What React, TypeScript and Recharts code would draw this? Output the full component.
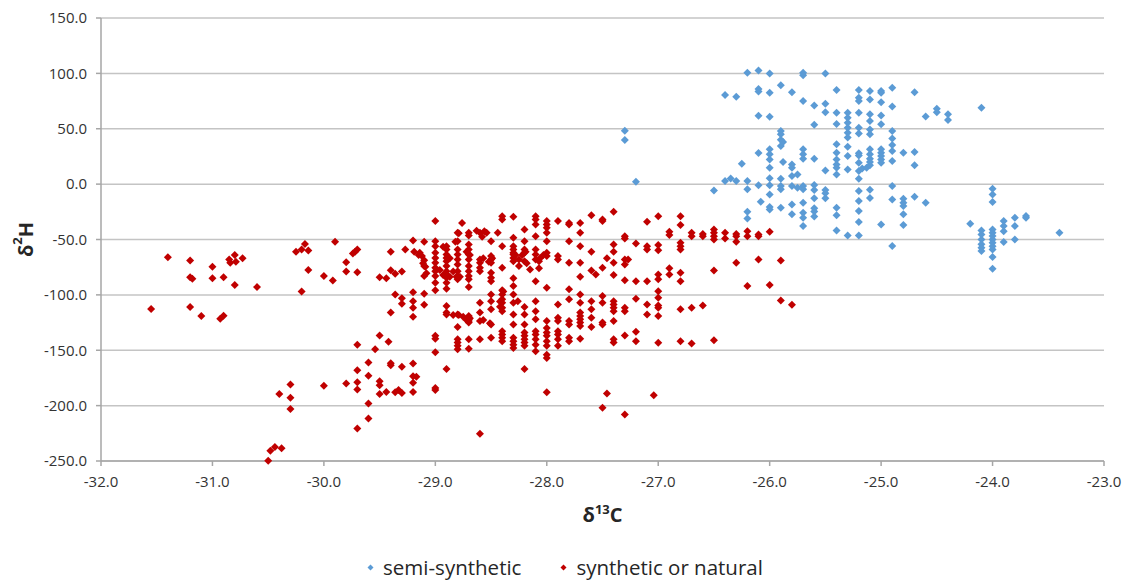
import React from 'react';
import { ScatterChart, Scatter, XAxis, YAxis, CartesianGrid, Legend, Label } from 'recharts';

const xTicks = [-32, -31, -30, -29, -28, -27, -26, -25, -24, -23];
const yTicks = [-250, -200, -150, -100, -50, 0, 50, 100, 150];

const seriesNames = ['semi-synthetic', 'synthetic or natural'];

const semiSynthetic: [number, number][] = [
  [-27.3, 48.2], [-27.3, 39.8], [-27.2, 2.2], [-26.5, -5.7], [-26.4, 80.4], [-26.3, 78.9],
  [-26.2, 100.6], [-26.1, 102.7], [-26.0, 100], [-26.1, 86], [-26.1, 83.7], [-26.0, 82.5], [-26.1, 61.8], [-26.0, 60.9],
  [-25.9, 89.2], [-25.8, 83], [-25.7, 100.6], [-25.7, 98.2], [-25.5, 100], [-25.7, 75], [-25.6, 71], [-25.5, 72.6], [-25.5, 65], [-25.6, 53.6],
  [-25.4, 85], [-25.4, 64.5], [-25.4, 54.2],
  [-25.3, 64.5], [-25.3, 60], [-25.3, 55.5], [-25.3, 51], [-25.3, 46.4], [-25.3, 42],
  [-25.2, 85], [-25.2, 78], [-25.2, 75], [-25.2, 64.5], [-25.2, 51], [-25.2, 45.8],
  [-25.1, 84], [-25.1, 76.5], [-25.1, 63], [-25.1, 57], [-25.1, 49.4], [-25.1, 45],
  [-25.9, 48], [-25.9, 45], [-25.9, 40], [-25.9, 34.4], [-25.88, 38],
  [-26.1, 28],
  [-26.0, 31.4], [-26.0, 26.9], [-26.0, 22.3], [-26.0, 14.8], [-26.0, 5.2], [-26.0, -1.1], [-26.0, -9.3], [-26.0, -20.7], [-26.0, -22.8],
  [-26.25, 18.4], [-26.4, 2.8], [-26.35, 5], [-26.3, 2.8], [-26.2, 2.8], [-26.2, -4.7], [-26.2, -25], [-26.2, -31], [-26.1, -1.1], [-26.08, -16],
  [-25.9, 4.9], [-25.9, -1.7], [-25.9, -4.7], [-25.9, -21.3],
  [-25.8, 7.3], [-25.8, -1.7], [-25.8, -18.3], [-25.8, -27.3],
  [-25.88, 20], [-25.8, 17.8], [-25.8, 14.8],
  [-25.75, 8.8], [-25.75, -3.2],
  [-25.7, 31.4], [-25.7, 26.9], [-25.7, 23],
  [-25.7, -1.7], [-25.7, -4.7], [-25.7, -16.8], [-25.7, -25.8], [-25.7, -30.3], [-25.7, -37.8],
  [-25.6, 23], [-25.6, -0.7], [-25.6, -5.2], [-25.6, -12.8], [-25.6, -21.8], [-25.6, -24.8], [-25.6, -29.3],
  [-25.5, 12.4], [-25.5, -5.2], [-25.5, -8.2], [-25.5, -12.8],
  [-25.4, 35.9], [-25.4, 28.4], [-25.4, 22.3], [-25.4, 17.8], [-25.4, 14.8], [-25.4, 8.8], [-25.4, -21.3], [-25.4, -28.2], [-25.4, -41.8],
  [-25.3, 33.8], [-25.3, 25.4], [-25.3, 13.3], [-25.3, -46.3],
  [-25.2, 27.8], [-25.2, 25.9], [-25.2, 19.3], [-25.2, 11.8], [-25.2, 4.8], [-25.2, -6.3], [-25.2, -15.3], [-25.2, -24.3], [-25.2, -34.2], [-25.2, -46.3],
  [-25.17, 14.2], [-25.13, 14.8], [-25.1, 31.4], [-25.1, 26.9], [-25.1, 23], [-25.1, 20], [-25.1, 17], [-25.1, -5], [-25.1, -12.5],
  [-25.0, 84], [-25.0, 82.5], [-25.0, 74], [-25.0, 62], [-25.0, 54], [-25.0, 31.4], [-25.0, 28.4], [-25.0, 25.4], [-25.0, 22.3], [-25.0, 19.3], [-25.0, -36.4],
  [-24.9, 87], [-24.9, 70], [-24.9, 48], [-24.9, 41.3], [-24.9, 35.3], [-24.9, 30], [-24.9, 20.8], [-24.9, -1.7], [-24.9, -13.8], [-24.9, -55.9],
  [-24.8, 28.4], [-24.8, -13.2], [-24.8, -16.8], [-24.8, -19.8], [-24.8, -27.3], [-24.8, -37],
  [-24.7, 83], [-24.7, 29], [-24.7, 17], [-24.7, -11.4],
  [-24.6, 61], [-24.6, -16.8],
  [-24.5, 68], [-24.5, 65],
  [-24.4, 63], [-24.4, 57.9],
  [-24.2, -35.8],
  [-24.1, 69], [-24.1, -41.8], [-24.1, -45.4], [-24.1, -50], [-24.1, -54.4], [-24.1, -57.4], [-24.1, -60.4],
  [-24.0, -4.2], [-24.0, -9.3], [-24.0, -16.2], [-24.0, -40.9], [-24.0, -43.9], [-24.0, -46.9], [-24.0, -50], [-24.0, -53], [-24.0, -56], [-24.0, -59], [-24.0, -65.8], [-24.0, -76.4],
  [-23.9, -33.3], [-23.9, -37.9], [-23.9, -42.5], [-23.9, -52.3],
  [-23.8, -30.3], [-23.8, -37.9], [-23.8, -50],
  [-23.7, -28.8], [-23.7, -30.3],
  [-23.4, -43.9],
];

const syntheticOrNatural: [number, number][] = [
  // far left group
  [-31.4, -66], [-31.2, -69], [-31.2, -84], [-31.18, -85.5], [-31.0, -74.5], [-31.0, -85], [-30.9, -84],
  [-30.85, -68], [-30.84, -71], [-30.8, -64], [-30.79, -70], [-30.73, -67], [-30.8, -91], [-30.6, -93],
  [-30.25, -61], [-30.2, -59], [-30.17, -54], [-30.14, -60], [-30.14, -77.5], [-30.2, -97], [-30.0, -83],
  [-31.55, -112.7], [-31.2, -111], [-31.1, -119], [-30.93, -121.5], [-30.9, -118.8],
  [-30.3, -181], [-30.4, -189.5], [-30.3, -193], [-30.3, -203], [-30.0, -182],
  [-30.5, -249.7], [-30.48, -240.7], [-30.44, -237.4], [-30.38, -238.5],
  // -29.9 .. -29.1
  [-29.9, -52], [-29.92, -87],
  [-29.8, -70.5], [-29.8, -79], [-29.8, -180],
  [-29.7, -59], [-29.72, -61], [-29.74, -62.6], [-29.7, -79.5], [-29.7, -145], [-29.7, -168], [-29.7, -179], [-29.7, -185.5], [-29.7, -220.7],
  [-29.6, -161], [-29.6, -173], [-29.6, -198], [-29.6, -211.6],
  [-29.54, -149],
  [-29.5, -84], [-29.5, -136.7], [-29.5, -178], [-29.5, -181.5], [-29.5, -189.4],
  [-29.44, -85], [-29.42, -142.4], [-29.44, -187.6],
  [-29.4, -61], [-29.4, -77.7], [-29.4, -116], [-29.4, -161.7], [-29.4, -163.5],
  [-29.36, -81], [-29.36, -99.6], [-29.36, -188], [-29.33, -186],
  [-29.3, -79], [-29.3, -103], [-29.3, -108], [-29.3, -165], [-29.3, -188.5],
  [-29.27, -59],
  [-29.2, -51], [-29.2, -97.6], [-29.2, -105.7], [-29.2, -111.7], [-29.2, -119.8], [-29.2, -162], [-29.2, -173.4], [-29.2, -179.4], [-29.2, -187.6],
  [-29.17, -174],
  [-29.19, -61], [-29.15, -64], [-29.11, -71.5], [-29.09, -74.6], [-29.08, -80.5],
  [-29.1, -52], [-29.14, -62], [-29.12, -65], [-29.1, -68.7], [-29.1, -74], [-29.1, -83], [-29.1, -99], [-29.1, -109],
  // -29.0 .. -28.0
  [-29.0, -33.4], [-29.0, -51.5], [-29.0, -56], [-29.0, -62], [-29.0, -66.6], [-29.0, -71], [-29.0, -75.6], [-29.0, -78.6], [-29.0, -83], [-29.0, -89], [-29.0, -95.8], [-29.0, -137], [-29.0, -139.7], [-29.0, -151.7], [-29.0, -184], [-29.0, -186],
  [-28.96, -77.5], [-28.93, -82], [-28.93, -56.5], [-28.87, -83.6], [-28.84, -79], [-28.81, -83.6], [-28.78, -83.6],
  [-28.87, -67], [-28.82, -52], [-28.79, -44.4], [-28.72, -61], [-28.69, -64],
  [-28.9, -56], [-28.9, -59], [-28.9, -63.5], [-28.9, -66.6], [-28.9, -69.6], [-28.9, -74], [-28.9, -78.6], [-28.9, -81.6], [-28.9, -84.6], [-28.9, -89], [-28.9, -94.5], [-28.9, -110], [-28.9, -116], [-28.9, -117.7], [-28.9, -167],
  [-28.84, -118.2], [-28.79, -118.2], [-28.75, -119.7], [-28.72, -122.7], [-28.69, -121.2],
  [-28.8, -44], [-28.8, -51.5], [-28.8, -59], [-28.8, -63.5], [-28.8, -68], [-28.8, -72.6], [-28.8, -78.6], [-28.8, -83], [-28.8, -86], [-28.8, -117.7], [-28.8, -129], [-28.8, -140], [-28.8, -143], [-28.8, -146], [-28.8, -149],
  [-28.76, -35],
  [-28.7, -44], [-28.7, -46.4], [-28.7, -54.5], [-28.7, -59], [-28.7, -63.5], [-28.7, -68], [-28.7, -74], [-28.7, -78.6], [-28.7, -83], [-28.7, -86], [-28.7, -93], [-28.7, -119], [-28.7, -122], [-28.7, -123.7], [-28.7, -125], [-28.7, -140], [-28.7, -148.7],
  [-28.63, -42], [-28.6, -44], [-28.56, -42.5], [-28.58, -47.5],
  [-28.6, -68], [-28.57, -67], [-28.52, -70], [-28.49, -67],
  [-28.6, -71], [-28.6, -75.6], [-28.6, -78.6], [-28.6, -107], [-28.6, -116], [-28.6, -123.7], [-28.6, -140], [-28.6, -225.5],
  [-28.57, -122.7], [-28.51, -125.7],
  [-28.54, -44],
  [-28.5, -51.5], [-28.5, -65], [-28.5, -68], [-28.5, -71], [-28.5, -80], [-28.5, -84.6], [-28.5, -87.6], [-28.5, -99.7], [-28.5, -105.7], [-28.5, -113], [-28.5, -126.8], [-28.5, -138.8],
  [-28.44, -44], [-28.42, -110.7], [-28.42, -106], [-28.39, -97],
  [-28.4, -29], [-28.4, -32], [-28.4, -56], [-28.4, -75.6], [-28.4, -95.8], [-28.4, -99.7], [-28.4, -104], [-28.4, -107], [-28.4, -111.7], [-28.4, -114.7], [-28.4, -132.8], [-28.4, -135.8], [-28.4, -138.8], [-28.4, -141.8],
  [-28.3, -29.5], [-28.3, -48.5], [-28.3, -56], [-28.3, -59], [-28.3, -62], [-28.3, -63.5], [-28.3, -66.6], [-28.3, -69.6], [-28.3, -85], [-28.3, -92], [-28.3, -99.7], [-28.3, -107], [-28.3, -117.7], [-28.3, -126.8], [-28.3, -138.8], [-28.3, -141.8], [-28.3, -145], [-28.3, -148],
  [-28.28, -64], [-28.22, -64], [-28.19, -61], [-28.18, -71.5],
  [-28.25, -68], [-28.25, -74], [-28.26, -105.7],
  [-28.2, -41], [-28.2, -51.5], [-28.2, -59], [-28.2, -62], [-28.2, -69.6], [-28.2, -111], [-28.2, -117.7], [-28.2, -126.8], [-28.2, -134], [-28.2, -137], [-28.2, -140], [-28.2, -143], [-28.2, -146], [-28.2, -167],
  [-28.15, -77],
  [-28.1, -29], [-28.1, -32], [-28.1, -36.5], [-28.1, -47], [-28.1, -59], [-28.1, -63.5], [-28.1, -68], [-28.1, -87.6], [-28.1, -105.7], [-28.1, -114.7], [-28.1, -122], [-28.1, -132.8], [-28.1, -135.8], [-28.1, -140], [-28.1, -145], [-28.1, -151],
  [-28.07, -69.6], [-28.07, -76], [-28.06, -67], [-28.03, -64],
  [-28.0, -33.4], [-28.0, -36.5], [-28.0, -39.5], [-28.0, -44], [-28.0, -51.5], [-28.0, -62], [-28.0, -65], [-28.0, -93.6], [-28.0, -123.7], [-28.0, -129.8], [-28.0, -134], [-28.0, -137], [-28.0, -141.8], [-28.0, -146], [-28.0, -154], [-28.0, -157], [-28.0, -187.9],
  // -27.9 .. -25.8
  [-27.9, -33.4], [-27.9, -65], [-27.9, -68], [-27.9, -108.7], [-27.9, -120.7], [-27.9, -123.7], [-27.9, -132.8], [-27.9, -135.8], [-27.9, -140], [-27.9, -146],
  [-27.8, -35], [-27.8, -36.5], [-27.8, -51.5], [-27.8, -71], [-27.8, -95], [-27.8, -104], [-27.8, -123.7], [-27.8, -126.8], [-27.8, -138.8], [-27.8, -141.8],
  [-27.7, -35], [-27.7, -44], [-27.7, -56], [-27.7, -71], [-27.7, -83.7], [-27.7, -99.7], [-27.7, -107], [-27.7, -116], [-27.7, -119], [-27.7, -122], [-27.7, -125], [-27.7, -128], [-27.7, -139.7],
  [-27.6, -28], [-27.6, -61], [-27.6, -78], [-27.6, -105.7], [-27.6, -113], [-27.6, -120.7], [-27.6, -128.9],
  [-27.56, -81.6],
  [-27.5, -32], [-27.5, -33.4], [-27.5, -75.6], [-27.5, -101], [-27.5, -107], [-27.5, -125], [-27.5, -126.8], [-27.5, -202],
  [-27.46, -67], [-27.46, -189],
  [-27.4, -25], [-27.4, -54.5], [-27.4, -61], [-27.4, -71], [-27.4, -82], [-27.4, -105.7], [-27.4, -108.7], [-27.4, -111.7], [-27.4, -114.7], [-27.4, -123.7], [-27.4, -140], [-27.4, -143],
  [-27.3, -47], [-27.3, -49], [-27.3, -68], [-27.3, -72.6], [-27.3, -86.7], [-27.3, -111.7], [-27.3, -114.7], [-27.3, -136.7], [-27.3, -208],
  [-27.27, -68],
  [-27.2, -53.6], [-27.2, -87.6], [-27.2, -103.6], [-27.2, -133.4], [-27.2, -141.8],
  [-27.1, -34], [-27.1, -56], [-27.1, -59], [-27.1, -87.6], [-27.1, -108.7], [-27.1, -117.7],
  [-27.04, -190.6],
  [-27.0, -29], [-27.0, -55], [-27.0, -59.6], [-27.0, -81.6], [-27.0, -86], [-27.0, -96.7], [-27.0, -102.7], [-27.0, -109.6], [-27.0, -111.7], [-27.0, -119], [-27.0, -143.3],
  [-26.9, -43], [-26.9, -46], [-26.9, -76], [-26.9, -81.6],
  [-26.8, -29], [-26.8, -37], [-26.8, -53], [-26.8, -56], [-26.8, -59], [-26.8, -80], [-26.8, -87.6], [-26.8, -113], [-26.8, -141.8],
  [-26.7, -44], [-26.7, -47], [-26.7, -111.7], [-26.7, -144],
  [-26.6, -45], [-26.6, -47], [-26.6, -109.6],
  [-26.5, -41], [-26.5, -44], [-26.5, -47], [-26.5, -50], [-26.5, -78], [-26.5, -141],
  [-26.4, -44], [-26.4, -49],
  [-26.3, -45], [-26.3, -47], [-26.3, -52], [-26.3, -71],
  [-26.2, -42.5], [-26.2, -47], [-26.2, -92],
  [-26.1, -45.5], [-26.1, -47], [-26.1, -68],
  [-26.0, -43], [-26.0, -91],
  [-25.9, -69], [-25.9, -105],
  [-25.8, -109],
];

const semiData = semiSynthetic.map(([x, y]) => ({ x, y }));
const synthData = syntheticOrNatural.map(([x, y]) => ({ x, y }));

const BLUE = '#5B9BD5';
const RED = '#C00000';
const FONT = '"Open Sans", "DejaVu Sans", sans-serif';

const makeDiamond = (color: string, r: number) => (props: any) => {
  const { cx, cy } = props;
  if (cx == null || cy == null) return null;
  return <path d={`M${cx},${cy - r}L${cx + r},${cy}L${cx},${cy + r}L${cx - r},${cy}Z`} fill={color} />;
};

const XTitle = (props: any) => {
  const vb = props.viewBox || {};
  const cx = vb.x + vb.width / 2;
  const y = vb.y + 61;
  return (
    <text x={cx} y={y} textAnchor="middle" fontFamily={FONT} fontWeight="bold" fontSize={20} fill="#262626">
      <tspan>δ</tspan>
      <tspan fontSize={13} dy={-8}>13</tspan>
      <tspan dy={8}>C</tspan>
    </text>
  );
};

const YTitle = (props: any) => {
  const vb = props.viewBox || {};
  const cx = vb.x + 25;
  const cy = vb.y + vb.height / 2;
  return (
    <text x={cx} y={cy} transform={`rotate(-90, ${cx}, ${cy})`} textAnchor="middle" dominantBaseline="central" fontFamily={FONT} fontWeight="bold" fontSize={20} fill="#262626">
      <tspan>δ</tspan>
      <tspan fontSize={13} dy={-8}>2</tspan>
      <tspan dy={8}>H</tspan>
    </text>
  );
};

const LegendContent = () => {
  const colors = [BLUE, RED];
  return (
    <div style={{ height: 18, display: 'flex', justifyContent: 'center', alignItems: 'center', paddingLeft: 26, fontFamily: FONT, fontSize: 20.5, color: '#262626', lineHeight: '18px', whiteSpace: 'nowrap' }}>
      {seriesNames.map((name, i) => (
        <div key={name} style={{ display: 'flex', alignItems: 'center', marginLeft: i === 0 ? 0 : 39 }}>
          <svg width={7} height={7} style={{ marginRight: 9 }}>
            <path d="M3.5,0.5L6.5,3.5L3.5,6.5L0.5,3.5Z" fill={colors[i]} />
          </svg>
          <span>{name}</span>
        </div>
      ))}
    </div>
  );
};

export default function App() {
  return (
    <div style={{ position: 'absolute', left: 0, top: 0, width: 1122, height: 581, background: '#fff' }}>
      <ScatterChart width={1122} height={581} margin={{ top: 18, right: 18, bottom: 5, left: 0 }}>
        <CartesianGrid vertical={false} stroke="#C4C4C4" strokeWidth={1.5} />
        <XAxis
          type="number"
          dataKey="x"
          domain={[-32, -23]}
          ticks={xTicks}
          interval={0}
          tickFormatter={(v: number) => v.toFixed(1)}
          height={97}
          tickSize={5}
          tickMargin={10}
          axisLine={{ stroke: '#A6A6A6', strokeWidth: 1.5 }}
          tickLine={{ stroke: '#A6A6A6', strokeWidth: 1.5 }}
          tick={{ fill: '#333333', fontSize: 15, fontFamily: FONT }}
        >
          <Label content={XTitle} />
        </XAxis>
        <YAxis
          type="number"
          dataKey="y"
          domain={[-250, 150]}
          ticks={yTicks}
          interval={0}
          tickFormatter={(v: number) => v.toFixed(1)}
          width={101}
          tickSize={5}
          tickMargin={9}
          axisLine={{ stroke: '#A6A6A6', strokeWidth: 1.5 }}
          tickLine={{ stroke: '#A6A6A6', strokeWidth: 1.5 }}
          tick={{ fill: '#333333', fontSize: 15, fontFamily: FONT }}
        >
          <Label content={YTitle} />
        </YAxis>
        <Legend verticalAlign="bottom" content={LegendContent} />
        <Scatter name={seriesNames[0]} data={semiData} fill={BLUE} shape={makeDiamond(BLUE, 4)} isAnimationActive={false} />
        <Scatter name={seriesNames[1]} data={synthData} fill={RED} shape={makeDiamond(RED, 4)} isAnimationActive={false} />
      </ScatterChart>
    </div>
  );
}
